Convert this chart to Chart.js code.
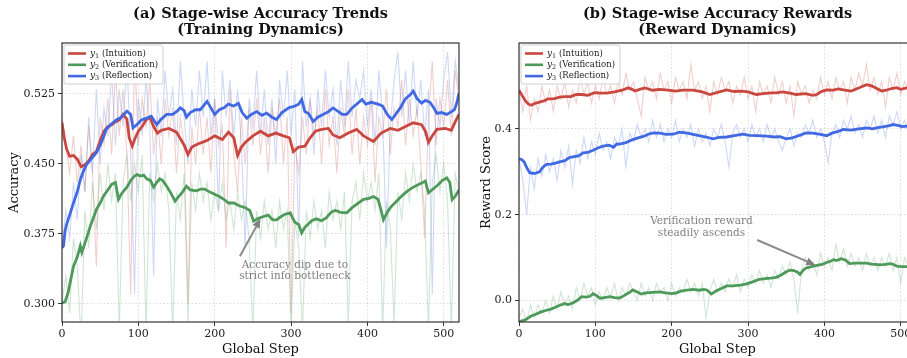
<!DOCTYPE html>
<html>
<head>
<meta charset="utf-8">
<script src="https://cdn.jsdelivr.net/npm/chart.js@4.4.1/dist/chart.umd.min.js"></script>
<style>
  html, body { margin: 0; padding: 0; background: #fff; overflow: hidden; width: 907px; height: 358px; }
  .panel { position: absolute; top: 0; }
</style>
</head>
<body>
<div class="panel" style="left:0"><canvas id="accChart" width="460" height="358"></canvas></div>
<div class="panel" style="left:460px"><canvas id="rewChart" width="460" height="358"></canvas></div>
<script>
// ---- data ----
const stageNames = ['(Intuition)', '(Verification)', '(Reflection)'];
const stepTicks = [0, 100, 200, 300, 400, 500];
const accTicks = [0.300, 0.375, 0.450, 0.525];
const rewTicks = [0.0, 0.2, 0.4];
const RAW_STEP = 5; // raw curves sampled every 5 global steps (0..520)

// (a) raw accuracy per step
const accRawY1 = [0.50,0.47,0.44,0.48,0.43,0.47,0.42,0.49,0.44,0.34,0.50,0.47,0.52,0.46,0.55,0.48,0.53,0.46,0.31,0.57,
  0.47,0.52,0.49,0.54,0.46,0.50,0.45,0.52,0.48,0.51,0.44,0.50,0.47,0.30,0.49,0.45,0.51,0.46,0.50,0.44,
  0.52,0.47,0.49,0.36,0.53,0.46,0.42,0.50,0.45,0.51,0.47,0.52,0.46,0.50,0.44,0.51,0.48,0.52,0.45,0.50,
  0.29,0.47,0.44,0.50,0.46,0.52,0.48,0.51,0.45,0.53,0.47,0.50,0.44,0.51,0.48,0.53,0.46,0.51,0.45,0.50,
  0.47,0.52,0.43,0.50,0.48,0.53,0.46,0.51,0.49,0.54,0.47,0.52,0.48,0.51,0.45,0.37,0.50,0.56,0.47,0.52,
  0.49,0.54,0.48,0.55,0.52];
const accRawY2 = [0.30,0.33,0.29,0.37,0.34,0.26,0.40,0.36,0.43,0.38,0.44,0.40,0.45,0.41,0.44,0.27,0.43,0.46,0.41,0.45,
  0.42,0.46,0.27,0.44,0.41,0.45,0.42,0.44,0.40,0.27,0.42,0.39,0.44,0.28,0.43,0.40,0.44,0.41,0.43,0.39,
  0.42,0.40,0.43,0.39,0.41,0.38,0.42,0.39,0.41,0.37,0.27,0.40,0.37,0.41,0.38,0.40,0.36,0.41,0.38,0.40,
  0.27,0.39,0.36,0.27,0.40,0.37,0.41,0.38,0.40,0.36,0.42,0.39,0.41,0.38,0.42,0.28,0.41,0.43,0.39,0.44,
  0.41,0.43,0.40,0.44,0.27,0.41,0.38,0.28,0.42,0.39,0.44,0.41,0.45,0.42,0.44,0.40,0.27,0.43,0.46,0.42,
  0.45,0.41,0.27,0.44,0.42];
const accRawY3 = [0.36,0.40,0.37,0.43,0.39,0.46,0.42,0.50,0.44,0.53,0.45,0.51,0.48,0.55,0.47,0.53,0.49,0.56,0.46,0.31,
  0.52,0.48,0.54,0.49,0.33,0.52,0.48,0.55,0.50,0.53,0.47,0.56,0.50,0.45,0.53,0.49,0.55,0.50,0.56,0.48,
  0.52,0.40,0.55,0.50,0.54,0.48,0.53,0.47,0.36,0.52,0.49,0.55,0.48,0.53,0.47,0.52,0.45,0.54,0.50,0.55,
  0.48,0.53,0.37,0.56,0.49,0.52,0.46,0.53,0.49,0.55,0.50,0.53,0.47,0.54,0.49,0.56,0.50,0.54,0.52,0.55,
  0.49,0.53,0.47,0.55,0.50,0.36,0.49,0.54,0.57,0.50,0.55,0.49,0.56,0.50,0.54,0.48,0.53,0.31,0.52,0.49,
  0.54,0.57,0.50,0.56,0.53];

// (a) smoothed accuracy [step, value]
const accSmoothY1 = [[0,0.494],[3,0.478],[6,0.466],[10,0.458],[15,0.459],[20,0.455],[25,0.447],[30,0.449],[35,0.453],[40,0.46],
  [45,0.463],[50,0.475],[55,0.485],[60,0.49],[65,0.492],[70,0.495],[75,0.497],[80,0.503],[85,0.498],[88,0.478],
  [92,0.469],[96,0.478],[100,0.485],[105,0.49],[110,0.497],[115,0.5],[120,0.49],[125,0.483],[130,0.486],[140,0.488],
  [150,0.484],[160,0.47],[165,0.46],[170,0.468],[180,0.472],[190,0.475],[200,0.48],[210,0.476],[218,0.484],[225,0.478],
  [230,0.459],[235,0.468],[240,0.473],[250,0.48],[260,0.485],[270,0.48],[280,0.483],[290,0.48],[298,0.478],[303,0.463],
  [310,0.468],[318,0.469],[325,0.478],[332,0.485],[340,0.487],[349,0.488],[355,0.481],[364,0.478],[375,0.483],[386,0.487],
  [395,0.48],[408,0.474],[418,0.483],[430,0.488],[440,0.486],[450,0.49],[460,0.494],[471,0.492],[476,0.485],[480,0.473],
  [485,0.48],[491,0.487],[502,0.488],[510,0.486],[515,0.495],[520,0.503]];
const accSmoothY2 = [[0,0.301],[4,0.302],[8,0.312],[12,0.328],[15,0.34],[20,0.35],[24,0.362],[26,0.355],[30,0.365],[34,0.375],
  [37,0.383],[41,0.392],[45,0.401],[50,0.408],[54,0.415],[60,0.422],[65,0.428],[70,0.43],[74,0.412],[78,0.418],
  [82,0.422],[85,0.425],[90,0.432],[95,0.437],[98,0.4385],[103,0.437],[107,0.438],[111,0.434],[116,0.432],[120,0.425],
  [124,0.43],[128,0.434],[132,0.432],[138,0.425],[143,0.418],[148,0.41],[153,0.415],[158,0.42],[163,0.426],[168,0.422],
  [176,0.421],[182,0.423],[187,0.423],[193,0.42],[200,0.4175],[206,0.415],[212,0.412],[218,0.408],[225,0.408],[232,0.405],
  [240,0.403],[246,0.4],[251,0.3885],[256,0.391],[262,0.393],[270,0.395],[276,0.39],[281,0.39],[286,0.393],[292,0.396],
  [299,0.3975],[302,0.392],[305,0.3875],[310,0.385],[314,0.376],[318,0.382],[322,0.385],[327,0.389],[333,0.391],[340,0.389],
  [346,0.392],[353,0.3985],[358,0.4],[365,0.398],[373,0.3975],[380,0.403],[388,0.408],[395,0.412],[402,0.413],[408,0.415],
  [414,0.412],[418,0.4],[421,0.39],[426,0.398],[431,0.404],[436,0.408],[442,0.413],[447,0.417],[452,0.4205],[458,0.424],
  [465,0.427],[470,0.429],[476,0.4315],[478,0.425],[480,0.419],[486,0.423],[492,0.427],[498,0.432],[504,0.435],[508,0.43],
  [511,0.4115],[515,0.415],[520,0.422]];
const accSmoothY3 = [[0,0.36],[2,0.362],[4,0.378],[6,0.385],[10,0.395],[15,0.408],[20,0.42],[24,0.433],[28,0.442],[32,0.449],
  [38,0.455],[45,0.462],[50,0.47],[55,0.48],[58,0.487],[65,0.493],[72,0.4975],[78,0.5],[85,0.5065],[90,0.503],
  [93,0.4885],[98,0.492],[104,0.497],[111,0.499],[117,0.501],[124,0.492],[130,0.498],[137,0.503],[145,0.503],[150,0.506],
  [155,0.51],[160,0.507],[163,0.5],[168,0.505],[175,0.508],[181,0.508],[185,0.512],[190,0.517],[195,0.51],[200,0.503],
  [206,0.508],[212,0.51],[218,0.514],[225,0.512],[231,0.515],[236,0.505],[242,0.499],[248,0.503],[255,0.506],[262,0.502],
  [268,0.5045],[275,0.5],[281,0.4975],[288,0.505],[297,0.51],[305,0.512],[310,0.514],[314,0.519],[318,0.506],[323,0.504],
  [329,0.4955],[335,0.5],[342,0.503],[349,0.506],[355,0.51],[362,0.506],[367,0.503],[373,0.503],[380,0.51],[386,0.514],
  [393,0.519],[398,0.514],[405,0.516],[414,0.514],[420,0.512],[426,0.503],[432,0.4975],[437,0.503],[443,0.51],[450,0.52],
  [456,0.524],[460,0.528],[465,0.52],[471,0.515],[476,0.518],[482,0.516],[487,0.51],[491,0.504],[497,0.505],[504,0.503],
  [510,0.506],[514,0.508],[517,0.515],[520,0.526]];

// (b) raw reward per step
const rewRawY1 = [0.49,0.44,0.50,0.42,0.47,0.44,0.50,0.46,0.49,0.44,0.50,0.47,0.51,0.45,0.49,0.46,0.52,0.48,0.51,0.46,
  0.50,0.47,0.52,0.48,0.50,0.46,0.51,0.48,0.53,0.49,0.51,0.47,0.43,0.52,0.49,0.51,0.47,0.53,0.49,0.51,
  0.46,0.52,0.49,0.51,0.47,0.55,0.49,0.51,0.47,0.50,0.44,0.51,0.48,0.52,0.49,0.51,0.46,0.50,0.48,0.52,
  0.47,0.50,0.44,0.51,0.48,0.50,0.46,0.52,0.48,0.51,0.46,0.50,0.43,0.51,0.48,0.50,0.46,0.49,0.47,0.52,
  0.48,0.51,0.47,0.52,0.49,0.51,0.46,0.52,0.49,0.53,0.50,0.55,0.49,0.52,0.48,0.51,0.45,0.52,0.49,0.53,
  0.48,0.51,0.49,0.52,0.50];
const rewRawY2 = [-0.04,-0.02,-0.05,-0.01,-0.04,-0.01,-0.03,0.00,-0.03,0.01,-0.02,0.02,-0.01,0.01,-0.02,0.03,0.00,0.04,0.01,0.03,
  -0.01,0.02,0.00,0.03,0.01,0.04,0.00,0.03,0.01,0.04,0.02,0.00,0.04,0.01,0.03,0.00,0.04,0.02,0.03,0.00,
  0.04,0.01,0.03,0.02,0.05,0.02,0.04,0.01,0.04,-0.04,0.02,0.05,0.02,0.04,0.02,0.05,0.03,0.06,0.02,0.05,
  0.03,0.06,0.04,0.07,0.04,0.06,0.03,0.07,0.05,0.08,0.06,0.09,0.05,-0.03,0.07,0.10,0.07,0.09,0.06,0.11,
  0.08,0.10,0.07,0.13,0.09,0.12,0.08,0.11,0.08,0.10,0.07,0.11,0.08,0.10,0.07,0.10,0.08,0.11,0.07,0.10,
  0.04,0.10,0.08,0.10,0.09];
const rewRawY3 = [0.33,0.28,0.20,0.31,0.26,0.33,0.29,0.34,0.30,0.33,0.28,0.35,0.31,0.36,0.27,0.35,0.32,0.38,0.33,0.37,
  0.34,0.39,0.35,0.37,0.33,0.38,0.36,0.40,0.31,0.39,0.37,0.41,0.38,0.40,0.37,0.42,0.38,0.41,0.37,0.40,
  0.38,0.42,0.37,0.40,0.38,0.41,0.36,0.40,0.37,0.39,0.36,0.40,0.38,0.41,0.37,0.31,0.39,0.41,0.38,0.40,
  0.37,0.41,0.38,0.40,0.37,0.41,0.38,0.40,0.37,0.35,0.38,0.40,0.36,0.39,0.38,0.41,0.39,0.42,0.38,0.40,
  0.37,0.32,0.39,0.41,0.38,0.42,0.40,0.43,0.39,0.41,0.38,0.42,0.40,0.43,0.39,0.42,0.38,0.43,0.41,0.44,
  0.40,0.42,0.39,0.41,0.40];

// (b) smoothed reward [step, value]
const rewSmoothY1 = [[0,0.49],[4,0.478],[8,0.466],[12,0.458],[16,0.455],[22,0.46],[28,0.463],[34,0.466],[38,0.47],[45,0.47],
  [53,0.474],[60,0.475],[68,0.475],[75,0.48],[82,0.48],[90,0.478],[99,0.484],[108,0.483],[117,0.484],[125,0.486],
  [135,0.49],[143,0.4955],[148,0.492],[152,0.488],[158,0.492],[165,0.4955],[175,0.49],[184,0.492],[195,0.49],[205,0.488],
  [215,0.49],[228,0.49],[240,0.486],[250,0.48],[260,0.485],[272,0.4907],[282,0.487],[292,0.488],[300,0.486],[311,0.48],
  [320,0.482],[330,0.484],[337,0.4837],[345,0.486],[355,0.483],[363,0.48],[375,0.482],[385,0.478],[390,0.48],[396,0.487],
  [403,0.4907],[412,0.49],[418,0.493],[425,0.4907],[435,0.488],[445,0.495],[455,0.503],[462,0.5],[470,0.493],[475,0.488],
  [481,0.49],[488,0.494],[495,0.496],[500,0.492],[508,0.4953],[520,0.497]];
const rewSmoothY2 = [[0,-0.049],[5,-0.047],[10,-0.043],[16,-0.036],[22,-0.032],[28,-0.027],[36,-0.0226],[42,-0.02],[49,-0.0145],[55,-0.01],
  [60,-0.007],[64,-0.01],[71,-0.005],[76,0.0],[82,0.009],[88,0.008],[93,0.01],[97,0.016],[101,0.012],[106,0.0055],
  [112,0.007],[119,0.009],[125,0.007],[132,0.006],[138,0.012],[144,0.018],[149,0.0246],[155,0.02],[160,0.015],[166,0.018],
  [175,0.019],[184,0.02],[192,0.018],[200,0.016],[206,0.018],[212,0.022],[220,0.024],[228,0.026],[236,0.024],[242,0.026],
  [246,0.0246],[252,0.015],[258,0.022],[265,0.028],[272,0.034],[280,0.034],[290,0.036],[298,0.039],[305,0.043],[315,0.0495],
  [322,0.051],[330,0.052],[337,0.054],[344,0.06],[350,0.067],[355,0.071],[360,0.07],[365,0.066],[368,0.061],[372,0.07],
  [376,0.076],[383,0.079],[390,0.082],[397,0.084],[402,0.088],[407,0.091],[412,0.095],[416,0.093],[422,0.0976],[428,0.094],
  [433,0.086],[440,0.087],[448,0.087],[455,0.087],[462,0.085],[468,0.084],[472,0.083],[480,0.084],[486,0.086],[490,0.0846],
  [495,0.08],[500,0.079],[508,0.079],[520,0.08]];
const rewSmoothY3 = [[0,0.33],[4,0.328],[7,0.322],[10,0.31],[14,0.298],[20,0.296],[27,0.3],[31,0.31],[36,0.317],[42,0.318],
  [48,0.32],[53,0.323],[60,0.326],[66,0.333],[72,0.335],[78,0.337],[84,0.344],[90,0.345],[97,0.35],[104,0.356],
  [110,0.3597],[118,0.362],[124,0.357],[128,0.365],[132,0.3643],[140,0.368],[149,0.375],[156,0.379],[164,0.383],[170,0.388],
  [176,0.3907],[185,0.39],[192,0.387],[202,0.3875],[210,0.392],[219,0.3906],[228,0.387],[236,0.384],[245,0.381],[254,0.3767],
  [262,0.38],[272,0.381],[282,0.384],[293,0.3875],[302,0.385],[312,0.384],[324,0.383],[334,0.381],[342,0.382],[350,0.3767],
  [358,0.379],[366,0.384],[376,0.3906],[385,0.39],[395,0.387],[403,0.384],[410,0.39],[418,0.394],[425,0.3984],[435,0.397],
  [445,0.4],[455,0.402],[463,0.4],[470,0.403],[478,0.405],[484,0.407],[490,0.41],[496,0.408],[502,0.405],[508,0.4062],[520,0.405]];

// ---- styling ----
const COLORS = ['#c9473f', '#4e9a5a', '#4169e1'];
const FAINT = ['rgba(201,71,63,0.26)', 'rgba(78,154,90,0.26)', 'rgba(65,105,225,0.26)'];
const SERIF = '"DejaVu Serif", serif';

const toPts = pairs => pairs.map(([x, y]) => ({ x, y }));
const rawPts = vals => vals.map((y, i) => ({ x: i * RAW_STEP, y }));

function arrow(ctx, x1, y1, x2, y2) {
  const ang = Math.atan2(y2 - y1, x2 - x1), hl = 9, hw = 4;
  const bx = x2 - hl * Math.cos(ang), by = y2 - hl * Math.sin(ang);
  ctx.beginPath(); ctx.moveTo(x1, y1); ctx.lineTo(bx, by); ctx.stroke();
  ctx.beginPath();
  ctx.moveTo(x2, y2);
  ctx.lineTo(bx + hw * Math.sin(ang), by - hw * Math.cos(ang));
  ctx.lineTo(bx - hw * Math.sin(ang), by + hw * Math.cos(ang));
  ctx.closePath(); ctx.fill();
}

// titles, frame, legend and annotation
const panelDecor = {
  id: 'panelDecor',
  afterDraw(chart, args, o) {
    const { ctx, chartArea: a, scales: { x, y } } = chart;
    const cx = (a.left + a.right) / 2;
    ctx.save();
    ctx.strokeStyle = '#333'; ctx.lineWidth = 1.2;
    ctx.strokeRect(a.left, a.top, a.right - a.left, a.bottom - a.top);

    ctx.fillStyle = '#111'; ctx.textAlign = 'center'; ctx.textBaseline = 'middle';
    ctx.font = 'bold 14.5px ' + SERIF;
    o.title.forEach((t, i) => ctx.fillText(t, cx, 14 + i * 16));
    ctx.font = '13px ' + SERIF;
    ctx.fillText('Global Step', cx, 350);
    ctx.save();
    ctx.translate(o.yTitleX, (a.top + a.bottom) / 2);
    ctx.rotate(-Math.PI / 2);
    ctx.fillText(o.yTitle, 0, 0);
    ctx.restore();

    // annotation
    const n = o.note;
    ctx.fillStyle = '#808080'; ctx.strokeStyle = '#8c8c8c'; ctx.lineWidth = 2;
    ctx.font = '10.5px ' + SERIF;
    n.lines.forEach((t, i) => ctx.fillText(t, x.getPixelForValue(n.text[0]), y.getPixelForValue(n.text[1]) + i * 11.5));
    arrow(ctx, x.getPixelForValue(n.from[0]), y.getPixelForValue(n.from[1]),
      x.getPixelForValue(n.to[0]), y.getPixelForValue(n.to[1]));

    // legend box
    const bx = a.left + 2, by = a.top + 2, bw = 99, bh = 39;
    ctx.fillStyle = 'rgba(255,255,255,0.85)'; ctx.strokeStyle = '#d0d0d0'; ctx.lineWidth = 1;
    ctx.beginPath(); ctx.roundRect(bx, by, bw, bh, 2); ctx.fill(); ctx.stroke();
    ctx.textAlign = 'left';
    stageNames.forEach((name, i) => {
      const ry = by + 8.5 + i * 11.3;
      ctx.strokeStyle = COLORS[i]; ctx.lineWidth = 2.6;
      ctx.beginPath(); ctx.moveTo(bx + 4, ry); ctx.lineTo(bx + 22, ry); ctx.stroke();
      ctx.fillStyle = '#222';
      ctx.font = 'italic 9px ' + SERIF;
      ctx.fillText('y', bx + 26, ry);
      let tx = bx + 26 + ctx.measureText('y').width;
      ctx.font = '6.5px ' + SERIF;
      ctx.fillText(String(i + 1), tx, ry + 2.5);
      tx += ctx.measureText(String(i + 1)).width;
      ctx.font = '8.5px ' + SERIF;
      ctx.fillText(' ' + name, tx, ry);
    });
    ctx.restore();
  }
};

function makePanel(id, cfg) {
  const datasets = [];
  cfg.raw.forEach((vals, i) => datasets.push({
    data: rawPts(vals), borderColor: FAINT[i], borderWidth: 1.1, order: 5 - i
  }));
  cfg.smooth.forEach((pairs, i) => datasets.push({
    data: toPts(pairs), borderColor: COLORS[i], borderWidth: 2.8, order: 2 - i
  }));
  datasets.forEach(d => Object.assign(d, { pointRadius: 0, tension: 0, fill: false, clip: 0 }));

  const tickFont = { family: SERIF, size: 11 };
  const grid = { color: 'rgba(0,0,0,0.17)', lineWidth: 0.8, tickColor: '#333', tickLength: 4, tickWidth: 1, tickBorderDash: [] };
  return new Chart(document.getElementById(id), {
    type: 'line',
    data: { datasets },
    plugins: [panelDecor],
    options: {
      responsive: false, animation: false, devicePixelRatio: 1,
      layout: { padding: { top: 43, right: cfg.padRight, left: 0, bottom: 0 } },
      plugins: { legend: { display: false }, tooltip: { enabled: false }, panelDecor: cfg.decor },
      scales: {
        x: {
          type: 'linear', min: 0, max: 520,
          afterBuildTicks: s => { s.ticks = stepTicks.map(v => ({ value: v })); },
          afterFit: s => { s.height = 36; },
          ticks: { font: tickFont, color: '#222', padding: 2, maxRotation: 0, autoSkip: false },
          grid, border: { display: false, dash: [1.5, 2] }
        },
        y: {
          min: cfg.yMin, max: cfg.yMax,
          afterBuildTicks: s => { s.ticks = cfg.yTicks.map(v => ({ value: v })); },
          afterFit: s => { s.width = cfg.yWidth; },
          ticks: { font: tickFont, color: '#222', padding: 3, autoSkip: false, callback: v => v.toFixed(cfg.decimals) },
          grid, border: { display: false, dash: [1.5, 2] }
        }
      }
    }
  });
}

makePanel('accChart', {
  raw: [accRawY1, accRawY2, accRawY3],
  smooth: [accSmoothY1, accSmoothY2, accSmoothY3],
  yMin: 0.2804, yMax: 0.5796, yTicks: accTicks, decimals: 3, yWidth: 62, padRight: 1,
  decor: {
    title: ['(a) Stage-wise Accuracy Trends', '(Training Dynamics)'],
    yTitle: 'Accuracy', yTitleX: 15,
    note: { lines: ['Accuracy dip due to', 'strict info bottleneck'], text: [305, 0.3416],
      from: [233, 0.351], to: [260, 0.391] }
  }
});

makePanel('rewChart', {
  raw: [rewRawY1, rewRawY2, rewRawY3],
  smooth: [rewSmoothY1, rewSmoothY2, rewSmoothY3],
  yMin: -0.05, yMax: 0.6, yTicks: rewTicks, decimals: 1, yWidth: 59, padRight: 4,
  decor: {
    title: ['(b) Stage-wise Accuracy Rewards', '(Reward Dynamics)'],
    yTitle: 'Reward Score', yTitleX: 27,
    note: { lines: ['Verification reward', 'steadily ascends'], text: [239, 0.1844],
      from: [312, 0.141], to: [388, 0.083] }
  }
});
</script>
</body>
</html>
